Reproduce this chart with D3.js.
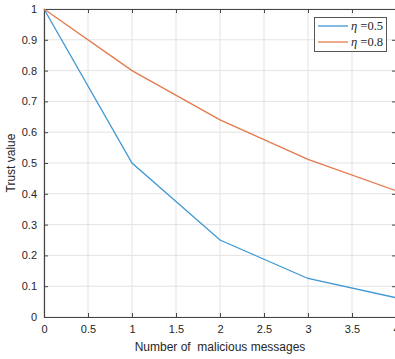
<!DOCTYPE html>
<html>
<head>
<meta charset="utf-8">
<script src="https://cdn.jsdelivr.net/npm/d3@7"></script>
<style>
  body { margin: 0; background: #fff; }
  svg { display: block; }
  .tick text { font-family: Arial, "Liberation Sans", sans-serif; font-size: 11px; fill: #262626; }
</style>
</head>
<body>
<svg width="395" height="359"></svg>
<script>
// data
const messages = [0, 1, 2, 3, 4];
const trustEta05 = [1, 0.5, 0.25, 0.125, 0.0625];
const trustEta08 = [1, 0.8, 0.64, 0.512, 0.41];
const xTicks = [0, 0.5, 1, 1.5, 2, 2.5, 3, 3.5, 4];
const yTicks = [0, 0.1, 0.2, 0.3, 0.4, 0.5, 0.6, 0.7, 0.8, 0.9, 1];
const seriesNames = ["0.5", "0.8"];
const seriesColors = ["#3f97d4", "#e5794d"];

let svg = d3.select("svg"),
    margin = {top: 9, right: -1, bottom: 42, left: 44},
    width = +svg.attr("width") - margin.left - margin.right,
    height = +svg.attr("height") - margin.top - margin.bottom,
    g = svg.append("g").attr("transform", "translate(" + margin.left + "," + margin.top + ")");

let x = d3.scaleLinear().domain([0, 4]).range([0, width]);
let y = d3.scaleLinear().domain([0, 1]).range([height, 0]);

// grid
g.append("g").selectAll("line").data(xTicks).enter().append("line")
    .attr("x1", d => x(d)).attr("x2", d => x(d))
    .attr("y1", 0).attr("y2", height)
    .attr("stroke", "#e3e3e3").attr("stroke-width", 1);
g.append("g").selectAll("line").data(yTicks).enter().append("line")
    .attr("x1", 0).attr("x2", width)
    .attr("y1", d => y(d)).attr("y2", d => y(d))
    .attr("stroke", "#e3e3e3").attr("stroke-width", 1);

// axes (box with inward ticks)
function styleAxis(sel) {
    sel.select(".domain").attr("stroke", "#444").attr("stroke-width", 1.2);
    sel.selectAll(".tick line").attr("stroke", "#444");
}
g.append("g").attr("transform", "translate(0," + height + ")")
    .call(d3.axisBottom(x).tickValues(xTicks).tickFormat(d3.format("")).tickSizeInner(-4).tickSizeOuter(0).tickPadding(8))
    .call(styleAxis);
g.append("g")
    .call(d3.axisTop(x).tickValues(xTicks).tickFormat("").tickSizeInner(-4).tickSizeOuter(0))
    .call(styleAxis);
g.append("g")
    .call(d3.axisLeft(y).tickValues(yTicks).tickFormat(d3.format("")).tickSizeInner(-4).tickSizeOuter(0).tickPadding(7))
    .call(styleAxis);
g.append("g").attr("transform", "translate(" + width + ",0)")
    .call(d3.axisRight(y).tickValues(yTicks).tickFormat("").tickSizeInner(-4).tickSizeOuter(0))
    .call(styleAxis);

// lines
let line = d3.line().x((d, i) => x(messages[i])).y(d => y(d));
[trustEta05, trustEta08].forEach(function (s, i) {
    g.append("path").datum(s)
        .attr("fill", "none")
        .attr("stroke", seriesColors[i])
        .attr("stroke-width", 1.3)
        .attr("d", line);
});

// axis labels
svg.append("text")
    .attr("x", 220).attr("y", 351)
    .attr("text-anchor", "middle")
    .attr("font-family", "Arial, 'Liberation Sans', sans-serif")
    .attr("font-size", 12).attr("fill", "#262626")
    .style("white-space", "pre")
    .text("Number of  malicious messages");
svg.append("text")
    .attr("transform", "translate(15,163) rotate(-90)")
    .attr("text-anchor", "middle")
    .attr("font-family", "Arial, 'Liberation Sans', sans-serif")
    .attr("font-size", 12).attr("fill", "#262626")
    .text("Trust value");

// legend
let legend = svg.append("g");
legend.append("rect")
    .attr("x", 314.5).attr("y", 17.5).attr("width", 72).attr("height", 34)
    .attr("fill", "#fff").attr("stroke", "#555").attr("stroke-width", 1);
let items = legend.selectAll("g.item").data(seriesNames).enter().append("g")
    .attr("transform", (d, i) => "translate(0," + (26 + i * 16) + ")");
items.append("line")
    .attr("x1", 318).attr("x2", 348).attr("y1", 0).attr("y2", 0)
    .attr("stroke", (d, i) => seriesColors[i]).attr("stroke-width", 1.3);
let lt = items.append("text")
    .attr("x", 351).attr("y", 4)
    .attr("font-family", "'Liberation Serif', 'Times New Roman', serif")
    .attr("font-size", 12.5).attr("fill", "#262626")
    .style("white-space", "pre");
lt.append("tspan").attr("font-style", "italic").text("η");
lt.append("tspan").text(d => " =" + d);
</script>
</body>
</html>
